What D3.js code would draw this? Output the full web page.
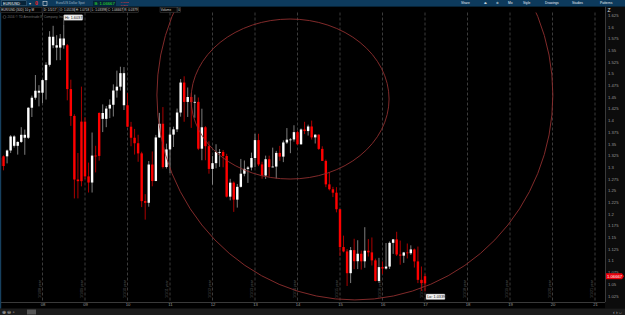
<!DOCTYPE html>
<html>
<head>
<meta charset="utf-8">
<script src="https://d3js.org/d3.v7.min.js"></script>
<style>
  body { margin: 0; background: #000; overflow: hidden; }
  svg { display: block; font-family: "Liberation Sans", Arial, sans-serif; }
</style>
</head>
<body>
<div id="chart"></div>
<script>
// EUR/USD monthly candles, Jan 2007 .. Jan 2017 (index 0 = Jan 2007)
// open/close order follows the bar colour seen on the chart (red = close below open)
var opens = [
  1.3197, 1.3229, 1.3229, 1.3354, 1.3454, 1.3454, 1.3537, 1.3626, 1.3626, 1.4268, 1.4482, 1.4589,
  1.4589, 1.4858, 1.5185, 1.5603, 1.5553, 1.5553, 1.5603, 1.5603, 1.4666, 1.4092, 1.2733, 1.3971,
  1.3971, 1.2800, 1.2669, 1.3245, 1.4155, 1.4030, 1.4030, 1.4250, 1.4331, 1.4636, 1.4718, 1.4321,
  1.4321, 1.3862, 1.3626, 1.3509, 1.3292, 1.2272, 1.2236, 1.3054, 1.2702, 1.3633, 1.3926, 1.3000,
  1.3377, 1.3693, 1.3806, 1.4165, 1.4806, 1.4392, 1.4497, 1.4389, 1.4393, 1.3392, 1.3850, 1.3446,
  1.2960, 1.3083, 1.3322, 1.3322, 1.3236, 1.2367, 1.2666, 1.2303, 1.2577, 1.2858, 1.2961, 1.2990,
  1.3193, 1.3576, 1.3056, 1.2819, 1.3167, 1.2999, 1.3010, 1.3302, 1.3223, 1.3525, 1.3585, 1.3590,
  1.3746, 1.3486, 1.3803, 1.3769, 1.3867, 1.3634, 1.3692, 1.3388, 1.3131, 1.2630, 1.2525, 1.2452,
  1.2098, 1.1290, 1.1196, 1.0731, 1.1224, 1.0987, 1.1147, 1.0985, 1.1212, 1.1176, 1.1005, 1.0565,
  1.0861, 1.0831, 1.0873, 1.1380, 1.1454, 1.1130, 1.1106, 1.1174, 1.1157, 1.1239, 1.0983, 1.0589,
  1.06667
];
var highs = [
  1.3245, 1.3250, 1.3375, 1.3682, 1.3680, 1.3549, 1.3852, 1.3802, 1.4277, 1.4527, 1.4967, 1.4750,
  1.4875, 1.5240, 1.5904, 1.6019, 1.5818, 1.5844, 1.6037, 1.5630, 1.4867, 1.4128, 1.3300, 1.4719,
  1.4064, 1.3095, 1.3738, 1.3455, 1.4170, 1.4339, 1.4306, 1.4447, 1.4767, 1.5061, 1.5144, 1.5137,
  1.4579, 1.3965, 1.3815, 1.3690, 1.3327, 1.2420, 1.3128, 1.3333, 1.3687, 1.4158, 1.4282, 1.3500,
  1.3861, 1.3862, 1.4250, 1.4881, 1.4940, 1.4700, 1.4578, 1.4548, 1.4487, 1.4247, 1.3874, 1.3550,
  1.3234, 1.3487, 1.3385, 1.3364, 1.3283, 1.2748, 1.2692, 1.2638, 1.3173, 1.3140, 1.3020, 1.3308,
  1.3711, 1.3711, 1.3114, 1.3244, 1.3243, 1.3415, 1.3346, 1.3452, 1.3569, 1.3833, 1.3620, 1.3893,
  1.3775, 1.3825, 1.3967, 1.3906, 1.3993, 1.3700, 1.3700, 1.3444, 1.3160, 1.2887, 1.2577, 1.2570,
  1.2100, 1.1534, 1.1246, 1.1290, 1.1467, 1.1436, 1.1215, 1.1714, 1.1460, 1.1495, 1.1043, 1.1059,
  1.0985, 1.1376, 1.1410, 1.1463, 1.1616, 1.1428, 1.1186, 1.1366, 1.1327, 1.1258, 1.1300, 1.0874,
  1.0718
];
var lows = [
  1.2866, 1.2930, 1.3078, 1.3299, 1.3417, 1.3266, 1.3515, 1.3262, 1.3601, 1.4070, 1.4440, 1.4297,
  1.4366, 1.4442, 1.5147, 1.5540, 1.5283, 1.5285, 1.5530, 1.4426, 1.3881, 1.2329, 1.2330, 1.2587,
  1.2745, 1.2456, 1.2455, 1.2886, 1.3137, 1.3747, 1.3852, 1.4046, 1.4080, 1.4484, 1.4635, 1.4219,
  1.3860, 1.3445, 1.3267, 1.3113, 1.2144, 1.1876, 1.2152, 1.2589, 1.2697, 1.3624, 1.2968, 1.2969,
  1.2870, 1.3429, 1.3748, 1.4077, 1.3968, 1.4071, 1.3837, 1.4053, 1.3362, 1.3145, 1.3146, 1.2858,
  1.2624, 1.2973, 1.3004, 1.2995, 1.2350, 1.2288, 1.2042, 1.2133, 1.2562, 1.2802, 1.2661, 1.2927,
  1.2998, 1.3020, 1.2750, 1.2745, 1.2796, 1.2995, 1.2755, 1.3133, 1.3105, 1.3493, 1.3296, 1.3544,
  1.3478, 1.3478, 1.3705, 1.3673, 1.3589, 1.3503, 1.3366, 1.3132, 1.2570, 1.2500, 1.2358, 1.2032,
  1.1098, 1.1177, 1.0458, 1.0520, 1.0818, 1.0819, 1.0808, 1.0847, 1.1087, 1.0896, 1.0557, 1.0524,
  1.0711, 1.0810, 1.0822, 1.1144, 1.1098, 1.0912, 1.0952, 1.1046, 1.1122, 1.0852, 1.0519, 1.0352,
  1.03398
];
var closes = [
  1.3021, 1.3021, 1.3354, 1.3654, 1.3654, 1.3537, 1.3689, 1.3689, 1.4268, 1.4482, 1.4631, 1.4631,
  1.4858, 1.5185, 1.5785, 1.5785, 1.5603, 1.5748, 1.5748, 1.4666, 1.4092, 1.2733, 1.2698, 1.2698,
  1.2800, 1.2669, 1.3245, 1.3238, 1.3238, 1.4155, 1.4250, 1.4331, 1.4636, 1.4718, 1.5007, 1.5007,
  1.3862, 1.3626, 1.3509, 1.3292, 1.2272, 1.2236, 1.3054, 1.2702, 1.3633, 1.3926, 1.3000, 1.3377,
  1.3693, 1.3806, 1.4165, 1.4806, 1.4392, 1.4497, 1.4389, 1.4393, 1.3392, 1.3850, 1.3446, 1.2960,
  1.3083, 1.3322, 1.3322, 1.3236, 1.2367, 1.2666, 1.2303, 1.2577, 1.2858, 1.2961, 1.2990, 1.3193,
  1.3576, 1.3056, 1.2819, 1.3167, 1.2999, 1.3010, 1.3302, 1.3223, 1.3525, 1.3585, 1.3590, 1.3746,
  1.3486, 1.3803, 1.3769, 1.3867, 1.3634, 1.3692, 1.3388, 1.3131, 1.2630, 1.2525, 1.2452, 1.2098,
  1.1290, 1.1196, 1.0731, 1.1224, 1.0987, 1.1147, 1.0985, 1.1212, 1.1176, 1.1005, 1.0565, 1.0861,
  1.0831, 1.0873, 1.1380, 1.1454, 1.1130, 1.1106, 1.1174, 1.1157, 1.1239, 1.0983, 1.0589, 1.0517,
  1.05136
];

var yearLabels = ["08", "09", "10", "11", "12", "13", "14", "15", "16", "17", "18", "19", "20", "21"];
var yearIdx = [12, 24, 36, 48, 60, 72, 84, 96, 108, 120, 132, 144, 156, 168];
var priceTicks = [1.625, 1.6, 1.575, 1.55, 1.525, 1.5, 1.475, 1.45, 1.425, 1.4, 1.375, 1.35, 1.325,
  1.3, 1.275, 1.25, 1.225, 1.2, 1.175, 1.15, 1.125, 1.1, 1.075, 1.05, 1.025];
var lastPrice = 1.06667;
var infoLabels = ["EUR/USD (30D) 10 y M", "D: 1/1/17", "O: 1.05136", "H: 1.0718", "L: 1.03398",
  "C: 1.06667", "R: 0.0379", "Volume", "0"];

// circles drawn on the chart: [centre month index, centre price, radius months, radius price]
var circles = [
  [100.2, 1.454, 55.9, 0.438],
  [81.9, 1.4454, 27.95, 0.171]
];

var W = 625, H = 315;
var plotRight = 605, plotTop = 12.5, plotBottom = 302;

var svg = d3.select("#chart").append("svg")
    .attr("width", W)
    .attr("height", H);

var x = d3.scaleLinear().domain([0, 168]).range([0, 595]);
var y = d3.scaleLinear().domain([1.025, 1.625]).range([295.7, 15]);

svg.append("rect").attr("width", W).attr("height", H).attr("fill", "#000");

var plot = svg.append("g");
plot.append("clipPath").attr("id", "clip")
  .append("rect").attr("x", 0).attr("y", plotTop).attr("width", plotRight).attr("height", plotBottom - plotTop);

// year separators
var sep = plot.append("g").selectAll("g").data(yearIdx).enter().append("g");
sep.append("line")
  .attr("x1", function(d) { return x(d) }).attr("x2", function(d) { return x(d) })
  .attr("y1", plotTop).attr("y2", plotBottom)
  .attr("stroke", "#4a4a4a")
  .attr("stroke-dasharray", "3,2")
  .attr("stroke-width", 0.8);
sep.append("text")
  .attr("transform", function(d) { return "translate(" + (x(d) - 2) + ",298) rotate(-90)" })
  .attr("fill", "#5a5a5a")
  .style("font-size", "3.6px")
  .text(function(d, i) { return "1/1/" + yearLabels[i] + " year" });

// candles
var candles = d3.range(opens.length).map(function(i) {
  return { i: i, o: opens[i], h: highs[i], l: lows[i], c: closes[i] };
});

var cg = plot.append("g").attr("clip-path", "url(#clip)");
var candle = cg.selectAll("g").data(candles).enter().append("g");
candle.append("line")
  .attr("x1", function(d) { return x(d.i) }).attr("x2", function(d) { return x(d.i) })
  .attr("y1", function(d) { return y(d.h) }).attr("y2", function(d) { return y(d.l) })
  .attr("stroke", function(d) { return d.c >= d.o ? "#8c8c8c" : "#c00000" })
  .attr("stroke-width", 0.9);
candle.append("rect")
  .attr("x", function(d) { return x(d.i) - 1.2 })
  .attr("width", 2.4)
  .attr("y", function(d) { return y(Math.max(d.o, d.c)) })
  .attr("height", function(d) { return Math.max(0.8, Math.abs(y(d.o) - y(d.c))) })
  .attr("fill", function(d) { return d.c >= d.o ? "#ffffff" : "#ff0000" });

// circles (drawn in price/time space)
plot.append("g").attr("clip-path", "url(#clip)")
  .selectAll("ellipse").data(circles).enter().append("ellipse")
  .attr("cx", function(d) { return x(d[0]) })
  .attr("cy", function(d) { return y(d[1]) })
  .attr("rx", function(d) { return x(d[2]) - x(0) })
  .attr("ry", function(d) { return y(0) - y(d[3]) })
  .attr("fill", "none")
  .attr("stroke", "#8e2f2f")
  .attr("stroke-width", 0.9);

// Hi / Lo bubbles
var hiIdx = highs.indexOf(d3.max(highs));
var loIdx = lows.indexOf(d3.min(lows));
function bubble(px, py, label) {
  var g = svg.append("g");
  g.append("rect").attr("x", px).attr("y", py).attr("width", 19).attr("height", 5.5)
    .attr("rx", 0.8).attr("fill", "#f2f2f2").attr("stroke", "#999").attr("stroke-width", 0.4);
  g.append("text").attr("x", px + 1.2).attr("y", py + 4.2).attr("fill", "#111")
    .style("font-size", "3.8px").text(label);
}
svg.append("line").attr("x1", x(hiIdx)).attr("x2", x(hiIdx)).attr("y1", y(highs[hiIdx])).attr("y2", 20)
  .attr("stroke", "#bbb").attr("stroke-width", 0.5);
bubble(x(hiIdx), 14.8, "Hi: " + highs[hiIdx].toFixed(4));
bubble(x(loIdx) + 1, 294, "Lo: " + lows[loIdx].toFixed(5));

// right price axis
svg.append("rect").attr("x", plotRight).attr("y", 6.5).attr("width", W - plotRight).attr("height", 302)
  .attr("fill", "#0c0c0c");
svg.append("line").attr("x1", plotRight + 0.5).attr("x2", plotRight + 0.5).attr("y1", 6.5).attr("y2", 302)
  .attr("stroke", "#3a3a3a");
var yAxis = d3.axisRight(y).tickValues(priceTicks).tickSize(0).tickPadding(2)
  .tickFormat(function(d) { return String(+d.toFixed(3)) });
svg.append("g").attr("transform", "translate(" + (plotRight + 1) + ",0)")
  .call(yAxis)
  .call(function(g) { g.select(".domain").remove() })
  .selectAll("text").attr("fill", "#9a9a9a").style("font-size", "4.2px").style("font-family", "Liberation Sans, Arial");

svg.append("text").attr("x", 607.5).attr("y", 11.5).attr("fill", "#ddd").style("font-size", "5px").text("Z");

// last price tag
var lp = svg.append("g");
lp.append("rect").attr("x", plotRight + 1).attr("y", y(lastPrice) - 3).attr("width", 16).attr("height", 6)
  .attr("fill", "#e8000b");
lp.append("path").attr("d", "M" + (plotRight + 17) + "," + (y(lastPrice) - 3) + "l2,3l-2,3z").attr("fill", "#e8000b");
lp.append("text").attr("x", plotRight + 2).attr("y", y(lastPrice) + 1.6).attr("fill", "#fff")
  .style("font-size", "4.2px").text(lastPrice.toFixed(5));

// bottom time axis
svg.append("line").attr("x1", 0).attr("x2", plotRight).attr("y1", plotBottom + 0.5).attr("y2", plotBottom + 0.5)
  .attr("stroke", "#3a3a3a");
var xAxis = d3.axisBottom(x).tickValues(yearIdx).tickSize(0).tickPadding(1.5)
  .tickFormat(function(d, i) { return yearLabels[i] });
svg.append("g").attr("transform", "translate(0," + plotBottom + ")")
  .call(xAxis)
  .call(function(g) { g.select(".domain").remove() })
  .selectAll("text").attr("fill", "#9a9a9a").style("font-size", "4.2px").style("font-family", "Liberation Sans, Arial");

// bottom status bar
svg.append("rect").attr("x", 0).attr("y", 308.5).attr("width", W).attr("height", 7).attr("fill", "#1c1c1c");
svg.append("text").attr("x", 2).attr("y", 314).attr("fill", "#bbb").style("font-size", "5px").text("⊕ ⊖ ▫");
svg.append("rect").attr("x", 27).attr("y", 309.5).attr("width", 9).attr("height", 5).attr("fill", "#555");
svg.append("text").attr("x", 613).attr("y", 314).attr("fill", "#bbb").style("font-size", "5px").text("‹ ›⇔");

// header bar
svg.append("rect").attr("x", 0).attr("y", 0).attr("width", W).attr("height", 6.6).attr("fill", "#0d3a5c");
svg.append("rect").attr("x", 1.5).attr("y", 0.8).attr("width", 25).attr("height", 5).attr("fill", "#062338").attr("stroke", "#5b7a92").attr("stroke-width", 0.4);
svg.append("text").attr("x", 3).attr("y", 4.6).attr("fill", "#fff").style("font-size", "3.8px").text("EUR/USD");
svg.append("text").attr("x", 28.5).attr("y", 4.8).attr("fill", "#ccc").style("font-size", "3.5px").text("▾");
svg.append("text").attr("x", 35).attr("y", 5.4).attr("fill", "#ff2020").style("font-size", "5px").style("font-weight", "bold").text("0");
svg.append("rect").attr("x", 43).attr("y", 1.3).attr("width", 4).attr("height", 4).attr("fill", "none").attr("stroke", "#ddd").attr("stroke-width", 0.6);
svg.append("text").attr("x", 56).attr("y", 4.4).attr("fill", "#9fb3c4").style("font-size", "3.2px").text("Euro/US Dollar Spot");
svg.append("rect").attr("x", 93).attr("y", 0.8).attr("width", 23).attr("height", 5).attr("fill", "#062338");
svg.append("text").attr("x", 94.5).attr("y", 4.8).attr("fill", "#2ee62e").style("font-size", "4.2px").text("B: " + lastPrice.toFixed(5));
svg.append("text").attr("x", 120).attr("y", 3).attr("fill", "#ff3030").style("font-size", "2.5px").text("-0.0012");
svg.append("text").attr("x", 120).attr("y", 5.8).attr("fill", "#ff3030").style("font-size", "2.5px").text("-0.11%");

var tools = [["Share", 461], ["⏏", 484], ["⚙", 495.5], ["Mo", 508], ["Style", 523], ["Drawings", 545], ["Studies", 572], ["Patterns", 600]];
svg.append("g").selectAll("text").data(tools).enter().append("text")
  .attr("x", function(d) { return d[1] }).attr("y", 4.3)
  .attr("fill", "#e6eef5").style("font-size", "3.3px")
  .text(function(d) { return d[0] });

// info row
var infoBox = [[0.5, 41.5], [43, 15], [59, 15.5], [75, 15.5], [91, 15.5], [107, 16], [123.5, 15], [160, 17], [177.5, 3]];
var ig = svg.append("g").selectAll("g").data(infoBox).enter().append("g");
ig.append("rect").attr("x", function(d) { return d[0] }).attr("y", 7.2).attr("width", function(d) { return d[1] }).attr("height", 5)
  .attr("fill", "#050505").attr("stroke", "#555").attr("stroke-width", 0.4);
ig.append("text").attr("x", function(d) { return d[0] + 0.8 }).attr("y", 10.9).attr("fill", "#d8d8d8").style("font-size", "3.1px")
  .text(function(d, i) { return infoLabels[i] });

svg.append("circle").attr("cx", 4.5).attr("cy", 17).attr("r", 1.5).attr("fill", "none").attr("stroke", "#777").attr("stroke-width", 0.4);
svg.append("text").attr("x", 7.5).attr("y", 18.2).attr("fill", "#6f6f6f").style("font-size", "3.2px")
  .text("2016 \u00a9 TD Ameritrade IP Company, Inc.");

svg.append("rect").attr("x", 0).attr("y", 12.5).attr("width", 1.2).attr("height", 296).attr("fill", "#17405f");
</script>
</body>
</html>
